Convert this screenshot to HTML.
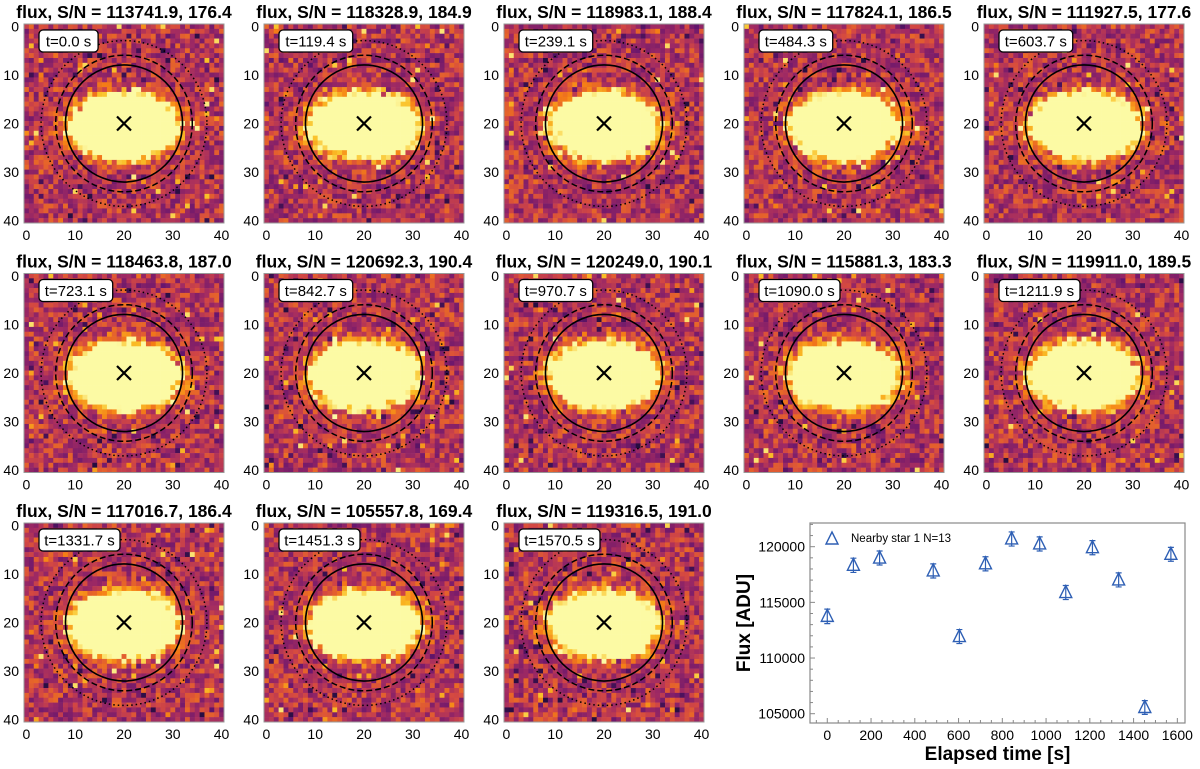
<!DOCTYPE html>
<html><head><meta charset="utf-8"><style>
body{margin:0;background:#fff;font-family:"Liberation Sans",sans-serif;}
#wrap{position:relative;width:1200px;height:769px;overflow:hidden;}
</style></head><body>
<div id="wrap">
<svg id="svg" width="1200" height="769" xmlns="http://www.w3.org/2000/svg"></svg>
</div>
<script>
const times=[0,119.4,239.1,484.3,603.7,723.1,842.7,970.7,1090.0,1211.9,1331.7,1451.3,1570.5];
const fluxes=[113741.9,118328.9,118983.1,117824.1,111927.5,118463.8,120692.3,120249.0,115881.3,119911.0,117016.7,105557.8,119316.5];
const snrs=[176.4,184.9,188.4,186.5,177.6,187.0,190.4,190.1,183.3,189.5,186.4,169.4,191.0];
const errs=[650,640,630,635,630,635,635,635,630,635,630,620,625];
const xTicks=[0,200,400,600,800,1000,1200,1400,1600];
const yTicks=[105000,110000,115000,120000];
const imgTicks=[0,10,20,30,40];

const NS="http://www.w3.org/2000/svg";
const svg=document.getElementById('svg');
function mk(t,a,p){const e=document.createElementNS(NS,t);for(const k in a)e.setAttribute(k,a[k]);(p||svg).appendChild(e);return e;}
let seed=12345;function rnd(){seed=(seed*1103515245+12345)%2147483648;return seed/2147483648;}
const stops=[[0,[20,11,52]],[0.25,[101,21,110]],[0.45,[160,42,99]],[0.62,[212,72,66]],[0.78,[245,125,21]],[0.9,[250,193,39]],[1,[252,250,164]]];
function cmap(v){v=Math.max(0,Math.min(1,v));for(let i=1;i<stops.length;i++){if(v<=stops[i][0]){const a=stops[i-1],b=stops[i];const f=(v-a[0])/(b[0]-a[0]);return 'rgb('+a[1].map((c,j)=>Math.round(c+(b[1][j]-c)*f)).join(',')+')';}}return 'rgb(252,250,164)';}

const colX=[24,264,504,744,984], rowY=[24,273.5,523];
const W=200,H=199,N=41;
for(let i=0;i<13;i++){
  const px=colX[i%5], py=rowY[Math.floor(i/5)];
  const g=mk('g',{});
  
  
  const t=mk('text',{x:px+W/2,y:py-6,'text-anchor':'middle','font-size':'17.5','font-weight':'bold',fill:'#000'},g);
  t.textContent='flux, S/N = '+fluxes[i].toFixed(1)+', '+snrs[i].toFixed(1);
  
  const cw=W/N, ch=H/N;
  for(let y=0;y<N;y++)for(let x=0;x<N;x++){
    const dx=(x-20)/10, dy=(y-20.5)/6.2;
    const r2=dx*dx+dy*dy;
    let v=0.3+0.42*rnd()+(rnd()<0.05?-0.25:0)+(rnd()<0.04?0.25:0);
    v+=1.6*Math.exp(-Math.pow(r2,1.8)*0.8);
    mk('rect',{x:(px+x*cw).toFixed(2),y:(py+y*ch).toFixed(2),width:(cw+0.3).toFixed(2),height:(ch+0.3).toFixed(2),fill:cmap(v)},g);
  }
  mk('rect',{x:px,y:py,width:W,height:H,fill:'none',stroke:'#999','stroke-width':1},g);
  const cx=px+20.5*cw, cy=py+20.5*ch;
  mk('circle',{cx,cy,r:12*cw,fill:'none',stroke:'#000','stroke-width':1.6},g);
  mk('circle',{cx,cy,r:14*cw,fill:'none',stroke:'#000','stroke-width':1.5,'stroke-dasharray':'6,3'},g);
  mk('circle',{cx,cy,r:17*cw,fill:'none',stroke:'#000','stroke-width':1.5,'stroke-dasharray':'1.5,3'},g);
  mk('path',{d:`M${cx-7} ${cy-7}L${cx+7} ${cy+7}M${cx+7} ${cy-7}L${cx-7} ${cy+7}`,stroke:'#000','stroke-width':2.2},g);
  const lab='t='+times[i].toFixed(1)+' s';
  const bw=lab.length*7.3+8;
  mk('rect',{x:px+15,y:py+6,width:bw,height:22,rx:4,fill:'#fff',stroke:'#000','stroke-width':1.3},g);
  const tt=mk('text',{x:px+15+bw/2,y:py+22.5,'text-anchor':'middle','font-size':'15',fill:'#000'},g);
  tt.textContent=lab;
  imgTicks.forEach(k=>{
    const ty=mk('text',{x:px-5,y:py+(k+0.5)*ch+5,'text-anchor':'end','font-size':'14',fill:'#000'},g);ty.textContent=k;
    const tx=mk('text',{x:px+(k+0.5)*cw,y:py+H+17,'text-anchor':'middle','font-size':'14',fill:'#000'},g);tx.textContent=k;
  });
}

// scatter
const L=810,R=1185,T=523,B=723;
const x0=-79,x1=1635,y0=104165,y1=122128;
const sx=v=>L+(v-x0)/(x1-x0)*(R-L);
const sy=v=>B-(v-y0)/(y1-y0)*(B-T);
const sg=mk('g',{});

mk('rect',{x:L,y:T,width:R-L,height:B-T,fill:'#fff',stroke:'#888','stroke-width':1.2},sg);
for(let v=-100;v<=1650;v+=50){if(v<x0||v>x1)continue;const big=v%200===0;mk('line',{x1:sx(v),x2:sx(v),y1:B,y2:B-(big?5:3),stroke:'#888'},sg);}
for(let v=105000;v<=122000;v+=1000){const big=v%5000===0;mk('line',{x1:L,x2:L+(big?5:3),y1:sy(v),y2:sy(v),stroke:'#888'},sg);}
xTicks.forEach(v=>{const t=mk('text',{x:sx(v),y:B+17,'text-anchor':'middle','font-size':'14',fill:'#000'},sg);t.textContent=v;});
yTicks.forEach(v=>{const t=mk('text',{x:L-5,y:sy(v)+5,'text-anchor':'end','font-size':'14',fill:'#000'},sg);t.textContent=v;});
const xl=mk('text',{x:(L+R)/2,y:760,'text-anchor':'middle','font-size':'19','font-weight':'bold',fill:'#000'},sg);xl.textContent='Elapsed time [s]';

const yl=mk('text',{x:0,y:0,'text-anchor':'middle','font-size':'19','font-weight':'bold',fill:'#000',transform:`translate(750,${(T+B)/2}) rotate(-90)`},sg);yl.textContent='Flux [ADU]';

const col='#2e5fb4';
function tri(x,y,p){return mk('path',{d:`M${x} ${y-7}L${x+6} ${y+5}L${x-6} ${y+5}Z`,fill:'none',stroke:col,'stroke-width':1.4},p);}
times.forEach((t,i)=>{
  const x=sx(t),y=sy(fluxes[i]),ya=sy(fluxes[i]+errs[i]),yb=sy(fluxes[i]-errs[i]);
  const m=mk('g',{},sg);
  
  mk('path',{d:`M${x} ${ya}L${x} ${yb}M${x-3} ${ya}L${x+3} ${ya}M${x-3} ${yb}L${x+3} ${yb}`,stroke:col,'stroke-width':1.2},m);
  tri(x,y,m);
});
const lg=mk('g',{},sg);
tri(832,539,lg);
const lt=mk('text',{x:851,y:542,'font-size':'11.5',fill:'#000'},lg);lt.textContent='Nearby star 1 N=13';
</script>
</body></html>
